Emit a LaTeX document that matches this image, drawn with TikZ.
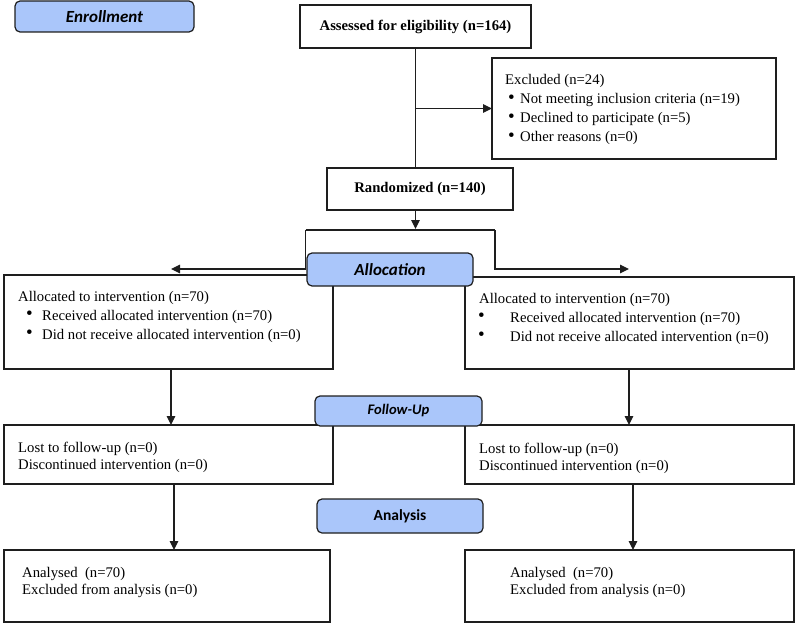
\documentclass[tikz,border=0pt]{standalone}
\usepackage{fontspec}
\setmainfont{Liberation Serif}
\newfontfamily\hdfont{Carlito}
\usetikzlibrary{arrows.meta,calc}
\definecolor{phaseblue}{RGB}{170,198,250}
\definecolor{ink}{RGB}{30,30,30}
\newcommand{\bodyfont}{\fontsize{14.7}{19}\selectfont}
\begin{document}
\begin{tikzpicture}[x=1pt,y=-1pt,
  box/.style={draw=ink, line width=1.1pt, inner sep=0pt, outer sep=0pt, anchor=north west},
  phase/.style={draw=ink, fill=phaseblue, rounded corners=5pt, line width=1.2pt, inner sep=0pt, outer sep=0pt},
  hdit/.style={font=\hdfont\bfseries\itshape\fontsize{17}{20}\selectfont},
  txt/.style={anchor=base west, inner sep=0pt, font=\bodyfont},
  btxt/.style={inner sep=0pt, font=\bodyfont\bfseries},
  bul/.style={anchor=center, inner sep=0pt, font=\fontsize{19}{19}\selectfont},
  con/.style={line width=1.1pt, draw=ink},
  arr/.style={con, -{Triangle[length=9pt,width=8.5pt]}}]
\useasboundingbox (0,0) rectangle (795,623);

% ---------- boxes ----------
\node[box, minimum width=231pt, minimum height=43pt] (assess) at (300,5) {};
\node[btxt] (assessT) at (assess.center) {Assessed for eligibility (n=164)};
\node[box, minimum width=284pt, minimum height=101pt] (excl) at (492,58) {};
\node[box, minimum width=186pt, minimum height=42pt] (rand) at (327,168) {};
\node[btxt] (randT) at (rand.center) {Randomized (n=140)};

\node[box, minimum width=329pt, minimum height=94pt] (allocL) at (4,275) {};
\node[box, minimum width=329pt, minimum height=92pt] (allocR) at (465,277) {};
\node[box, minimum width=329pt, minimum height=59pt] (lostL) at (4,425) {};
\node[box, minimum width=329pt, minimum height=59pt] (lostR) at (465,425) {};
\node[box, minimum width=326pt, minimum height=72pt] (anaL) at (4,550) {};
\node[box, minimum width=329pt, minimum height=72pt] (anaR) at (465,550) {};

% ---------- texts ----------
\node[txt] (ex1) at (505,85) {Excluded (n=24)};
\node[bul] (exb2) at (511.5,99.5) {\textbullet};
\node[txt] (ex2) at (520,104) {Not meeting inclusion criteria (n=19)};
\node[bul] (exb3) at (511.5,118.5) {\textbullet};
\node[txt] (ex3) at (520,123) {Declined to participate (n=5)};
\node[bul] (exb4) at (511.5,137.5) {\textbullet};
\node[txt] (ex4) at (520,142) {Other reasons (n=0)};

\node[txt] (aL1) at (18,301) {Allocated to intervention (n=70)};
\node[bul] (aLb2) at (29.5,315.5) {\textbullet};
\node[txt] (aL2) at (42,320) {Received allocated intervention (n=70)};
\node[bul] (aLb3) at (29.5,334.5) {\textbullet};
\node[txt] (aL3) at (42,339) {Did not receive allocated intervention (n=0)};

\node[txt] (aR1) at (479,303) {Allocated to intervention (n=70)};
\node[bul] (aRb2) at (481.5,317.5) {\textbullet};
\node[txt] (aR2) at (510,322) {Received allocated intervention (n=70)};
\node[bul] (aRb3) at (481.5,336.5) {\textbullet};
\node[txt] (aR3) at (510,341) {Did not receive allocated intervention (n=0)};

\node[txt] (lL1) at (18,452) {Lost to follow-up (n=0)};
\node[txt] (lL2) at (18,469) {Discontinued intervention (n=0)};
\node[txt] (lR1) at (479,453) {Lost to follow-up (n=0)};
\node[txt] (lR2) at (479,470) {Discontinued intervention (n=0)};

\node[txt] (nL1) at (22,577) {Analysed\ \ (n=70)};
\node[txt] (nL2) at (22,594) {Excluded from analysis (n=0)};
\node[txt] (nR1) at (510,577) {Analysed\ \ (n=70)};
\node[txt] (nR2) at (510,594) {Excluded from analysis (n=0)};

% ---------- connectors ----------
\coordinate (trunk) at (415.5,48);
\draw[con] (trunk) -- (trunk |- rand.north);
\draw[arr] (trunk |- excl.west) -- (excl.west);
\coordinate (randout) at (415.5,210);
\coordinate (splitL) at (305.5,230);
\coordinate (splitR) at (495,230);
\coordinate (tipL) at (171,269);
\coordinate (tipR) at (629,269);
\draw[arr] (randout) -- (415.5,229);
\draw[con] (splitL) -- (splitR);
\draw[arr] (splitL) |- (tipL);
\draw[arr] (splitR) |- (tipR);

\coordinate (aLout) at (171,369);
\coordinate (aRout) at (629,369);
\coordinate (lLout) at (174,484);
\coordinate (lRout) at (633,484);
\draw[arr] (aLout) -- (aLout |- lostL.north);
\draw[arr] (aRout) -- (aRout |- lostR.north);
\draw[arr] (lLout) -- (lLout |- anaL.north);
\draw[arr] (lRout) -- (lRout |- anaR.north);

% ---------- phase labels ----------
\node[phase, hdit, minimum width=179pt, minimum height=31pt] (enroll) at (104.5,16.5) {Enrollment};
\node[phase, hdit, minimum width=166pt, minimum height=33pt] (alloc) at (390,269.5) {Allocation};
\node[phase, font=\hdfont\bfseries\itshape\fontsize{14.6}{17}\selectfont, minimum width=167pt, minimum height=30pt] (follow) at (398.5,411) {Follow-Up};
\node[phase, font=\hdfont\bfseries\fontsize{15.5}{18}\selectfont, minimum width=166pt, minimum height=34pt] (analysis) at (400,516) {Analysis};
\end{tikzpicture}
\end{document}
